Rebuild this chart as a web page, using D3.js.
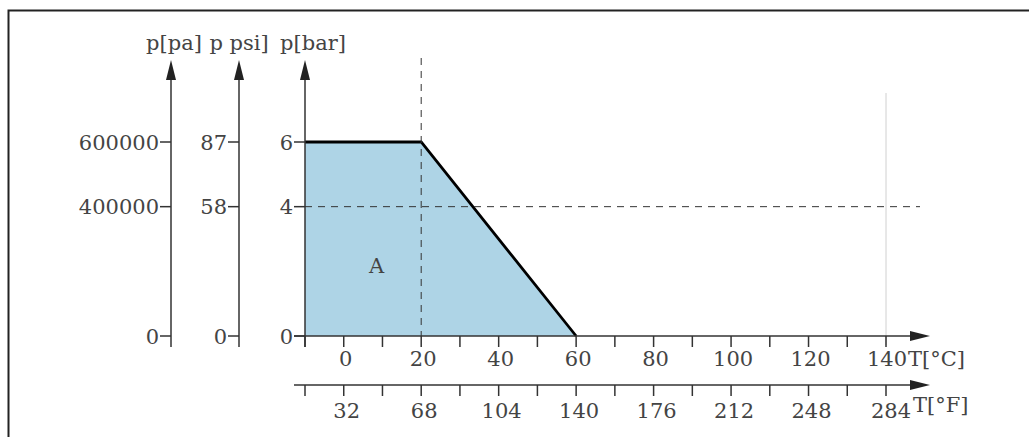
<!DOCTYPE html>
<html>
<head>
<meta charset="utf-8">
<script src="https://cdn.jsdelivr.net/npm/d3@7"></script>
<style>
  body { margin: 0; background: #fff; }
  svg text { font-family: "DejaVu Serif", serif; font-size: 21px; fill: #444; }
</style>
</head>
<body>
<svg id="chart" width="1029" height="437"></svg>
<script>
// operating envelope, T[°C] vs p[bar]
var envT = [-10, -10, 20, 60];
var envP = [0, 6, 6, 0];

var celsiusTicks = d3.range(-10, 141, 10);
var celsiusLabels = [0, 20, 40, 60, 80, 100, 120, 140];
var fahrTicks = d3.range(14, 285, 18);
var fahrLabels = [32, 68, 104, 140, 176, 212, 248, 284];
var barTicks = [0, 4, 6];
var psiTicks = [0, 58, 87];
var paTicks = [0, 400000, 600000];

var refTemp = 20, refBar = 4;

var svg = d3.select("#chart");
var ink = "#333";

var x = d3.scaleLinear().domain([-10, 140]).range([305, 886]);
var xF = d3.scaleLinear().domain([14, 284]).range([305, 886]);
var y = d3.scaleLinear().domain([0, 6]).range([336, 142]);
var yPsi = d3.scaleLinear().domain([0, 87]).range([336, 142]);
var yPa = d3.scaleLinear().domain([0, 600000]).range([336, 142]);

// frame (only top / left edge visible)
svg.append("path")
    .attr("d", "M8.5 437 V10.5 H1029")
    .attr("fill", "none")
    .attr("stroke", "#222")
    .attr("stroke-width", 2);

// light grey guide at 140°C
svg.append("line")
    .attr("x1", x(140)).attr("x2", x(140))
    .attr("y1", 93).attr("y2", 345)
    .attr("stroke", "#d0d0d0").attr("stroke-width", 1);

// envelope area
var pts = envT.map(function (t, i) { return [x(t), y(envP[i])]; });
svg.append("path")
    .attr("d", d3.line()(pts) + "Z")
    .attr("fill", "#aed4e6");

svg.append("path")
    .attr("d", d3.line()(pts.slice(1)))
    .attr("fill", "none")
    .attr("stroke", "#000")
    .attr("stroke-width", 2.8);

svg.append("text")
    .attr("x", x(8.5)).attr("y", 273)
    .attr("text-anchor", "middle")
    .text("A");

// dashed reference lines
svg.append("line")
    .attr("x1", x(refTemp)).attr("x2", x(refTemp))
    .attr("y1", 58).attr("y2", y(0))
    .attr("stroke", ink).attr("stroke-width", 1)
    .attr("stroke-dasharray", "7,6");
svg.append("line")
    .attr("x1", x(-10)).attr("x2", 920)
    .attr("y1", y(refBar)).attr("y2", y(refBar))
    .attr("stroke", ink).attr("stroke-width", 1)
    .attr("stroke-dasharray", "7,6");

function arrowUp(cx, tip) {
    svg.append("path")
        .attr("d", "M" + cx + " " + tip + " L" + (cx - 5) + " " + (tip + 20) + " L" + (cx + 5) + " " + (tip + 20) + "Z")
        .attr("fill", "#222");
}
function arrowRight(tip, cy) {
    svg.append("path")
        .attr("d", "M" + tip + " " + cy + " L" + (tip - 20) + " " + (cy - 5) + " L" + (tip - 20) + " " + (cy + 5) + "Z")
        .attr("fill", "#222");
}

// vertical axes
function vAxis(ax, scale, ticks, title, titleX) {
    svg.append("line")
        .attr("x1", ax).attr("x2", ax)
        .attr("y1", 66).attr("y2", 347)
        .attr("stroke", ink).attr("stroke-width", 1.5);
    arrowUp(ax, 60);
    var g = svg.append("g").selectAll("g")
        .data(ticks).enter().append("g")
        .attr("transform", function (d) { return "translate(" + ax + "," + scale(d) + ")"; });
    g.append("line")
        .attr("x1", -11).attr("x2", 0)
        .attr("stroke", ink).attr("stroke-width", 1.5);
    g.append("text")
        .attr("x", -12)
        .attr("dy", "0.36em")
        .attr("text-anchor", "end")
        .text(function (d) { return d; });
    svg.append("text")
        .attr("x", titleX).attr("y", 50)
        .attr("text-anchor", "middle")
        .text(title);
}
vAxis(171, yPa, paTicks, "p[pa]", 174);
vAxis(239, yPsi, psiTicks, "p psi]", 239);
vAxis(305, y, barTicks, "p[bar]", 313);

// celsius axis
svg.append("line")
    .attr("x1", 294).attr("x2", 915)
    .attr("y1", y(0)).attr("y2", y(0))
    .attr("stroke", ink).attr("stroke-width", 1.5);
arrowRight(930, y(0));
var gc = svg.append("g").selectAll("g")
    .data(celsiusTicks).enter().append("g")
    .attr("transform", function (d) { return "translate(" + x(d) + "," + y(0) + ")"; });
gc.append("line")
    .attr("y1", 0).attr("y2", 11)
    .attr("stroke", ink).attr("stroke-width", 1.5);
gc.filter(function (d) { return celsiusLabels.indexOf(d) >= 0; })
    .append("text")
    .attr("y", 30)
    .attr("x", function (d) { return d == 140 ? 1 : 2; })
    .attr("text-anchor", "middle")
    .text(function (d) { return d; });
svg.append("text")
    .attr("x", 908).attr("y", 366)
    .text("T[°C]");

// fahrenheit axis
var yF = 385;
svg.append("line")
    .attr("x1", 294).attr("x2", 915)
    .attr("y1", yF).attr("y2", yF)
    .attr("stroke", ink).attr("stroke-width", 1.5);
arrowRight(930, yF);
var gf = svg.append("g").selectAll("g")
    .data(fahrTicks).enter().append("g")
    .attr("transform", function (d) { return "translate(" + xF(d) + "," + yF + ")"; });
gf.append("line")
    .attr("y1", 0).attr("y2", 11)
    .attr("stroke", ink).attr("stroke-width", 1.5);
gf.filter(function (d) { return fahrLabels.indexOf(d) >= 0; })
    .append("text")
    .attr("y", 33)
    .attr("x", function (d) { return d == 284 ? 5 : 3; })
    .attr("text-anchor", "middle")
    .text(function (d) { return d; });
svg.append("text")
    .attr("x", 913).attr("y", 412)
    .text("T[°F]");
</script>
</body>
</html>
